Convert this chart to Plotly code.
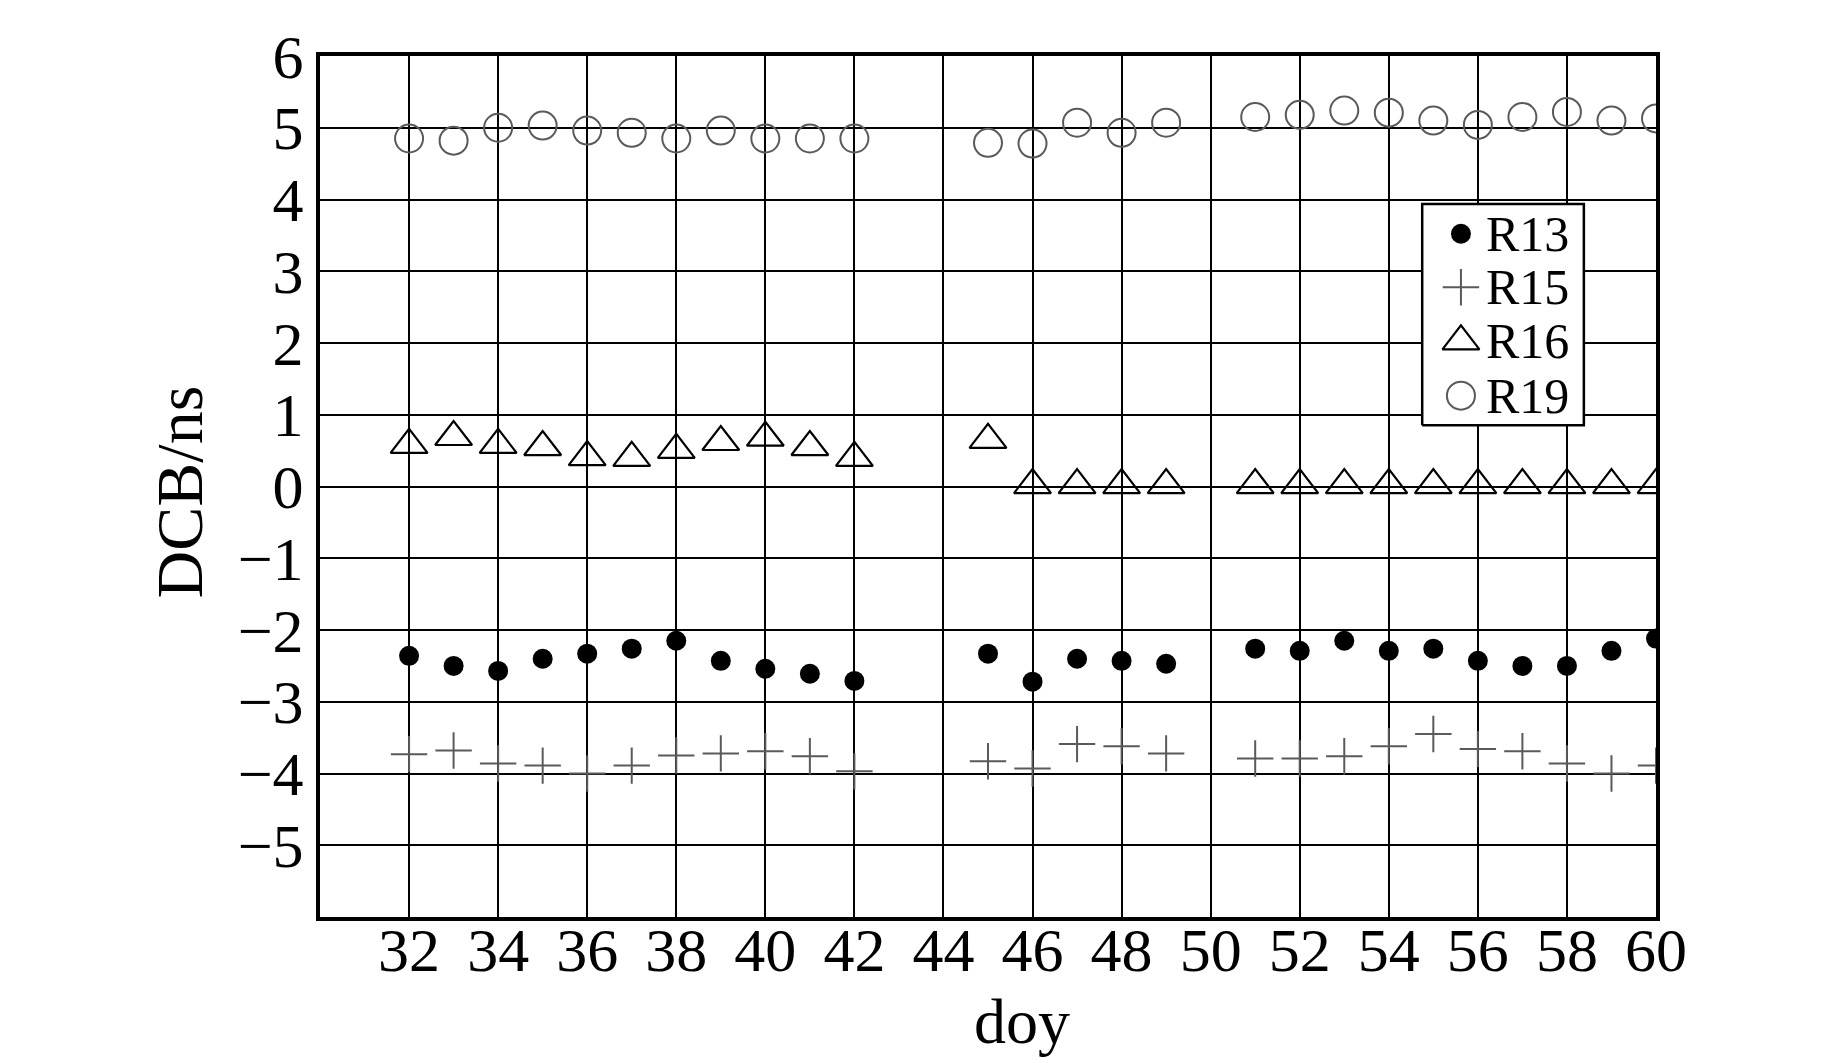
import plotly.graph_objects as go

# days of year for each segment (gaps on 43, 44 and 50)
doy = [32, 33, 34, 35, 36, 37, 38, 39, 40, 41, 42,
       45, 46, 47, 48, 49,
       51, 52, 53, 54, 55, 56, 57, 58, 59, 60]

r13 = [-2.36, -2.50, -2.57, -2.40, -2.33, -2.26, -2.15, -2.43, -2.54, -2.61, -2.71,
       -2.33, -2.72, -2.40, -2.43, -2.47,
       -2.26, -2.29, -2.15, -2.29, -2.26, -2.43, -2.50, -2.50, -2.29, -2.12]
r15 = [-3.73, -3.68, -3.86, -3.89, -4.00, -3.89, -3.75, -3.72, -3.69, -3.76, -3.97,
       -3.83, -3.93, -3.59, -3.62, -3.72,
       -3.79, -3.79, -3.76, -3.62, -3.45, -3.66, -3.69, -3.86, -4.00, -3.89]
r16 = [0.58, 0.69, 0.58, 0.55, 0.41, 0.40, 0.51, 0.62, 0.68, 0.55, 0.40,
       0.65, 0.02, 0.02, 0.02, 0.02,
       0.02, 0.02, 0.02, 0.02, 0.02, 0.02, 0.02, 0.02, 0.02, 0.02]
r19 = [4.85, 4.82, 5.00, 5.03, 4.96, 4.93, 4.85, 4.96, 4.85, 4.85, 4.85,
       4.79, 4.78, 5.07, 4.93, 5.07,
       5.15, 5.18, 5.24, 5.21, 5.10, 5.04, 5.15, 5.22, 5.10, 5.13]

series_names = ["R13", "R15", "R16", "R19"]
x_ticks = list(range(32, 61, 2))
y_ticks = list(range(-5, 7))

FONT = "Liberation Serif, Times New Roman, serif"
GRAY = "#5a5a5a"

markers = {
    "R13": dict(symbol="circle", size=20, color="black", line=dict(width=0)),
    "R15": dict(symbol="cross-thin-open", size=26, color=GRAY,
                line=dict(width=2, color=GRAY)),
    "R16": dict(symbol="triangle-up-open", size=32, color="black",
                line=dict(width=2.2, color="black")),
    "R19": dict(symbol="circle-open", size=28, color=GRAY,
                line=dict(width=2, color=GRAY)),
}

fig = go.Figure()

for name, vals in zip(series_names, [r13, r15, r16, r19]):
    fig.add_trace(go.Scatter(x=doy, y=vals, mode="markers", name=name,
                             marker=markers[name], showlegend=False,
                             hoverinfo="skip"))

# hand-made legend on an overlay axis (paper-like 0..1 coordinates)
lx0, lx1, ly0, ly1 = 0.825, 0.946, 0.571, 0.828
fig.add_trace(go.Scatter(
    x=[lx0, lx1, lx1, lx0, lx0], y=[ly0, ly0, ly1, ly1, ly0],
    mode="lines", fill="toself", fillcolor="white",
    line=dict(color="black", width=2.5),
    xaxis="x2", yaxis="y2", showlegend=False, hoverinfo="skip"
))
item_y = [0.7935, 0.7315, 0.6685, 0.6055]
for name, yy in zip(series_names, item_y):
    fig.add_trace(go.Scatter(x=[0.854], y=[yy], mode="markers",
                             marker=markers[name], xaxis="x2", yaxis="y2",
                             showlegend=False, hoverinfo="skip"))
    fig.add_annotation(x=0.871, y=yy, xref="paper", yref="paper",
                       text=name, showarrow=False, xanchor="left",
                       yanchor="middle",
                       font=dict(family=FONT, size=50, color="black"))

# axis titles
fig.add_annotation(x=0.5255, y=-0.121, xref="paper", yref="paper",
                   text="doy", showarrow=False, xanchor="center",
                   yanchor="middle",
                   font=dict(family=FONT, size=64, color="black"))
fig.add_annotation(x=-0.105, y=0.494, xref="paper", yref="paper",
                   text="DCB/ns", showarrow=False, textangle=-90,
                   xanchor="center", yanchor="middle",
                   font=dict(family=FONT, size=66, color="black"))

fig.update_layout(
    width=1843, height=1063,
    margin=dict(l=312, r=195, t=48, b=154),
    paper_bgcolor="white",
    plot_bgcolor="white",
    font=dict(family=FONT, color="black"),
    showlegend=False,
    xaxis=dict(
        range=[30, 60],
        tickvals=x_ticks,
        ticktext=[str(v) for v in x_ticks],
        tickfont=dict(family=FONT, size=62, color="black"),
        ticks="",
        ticklabelstandoff=-24,
        showgrid=True, gridcolor="black", gridwidth=2,
        zeroline=False,
        showline=True, linecolor="black", linewidth=4, mirror=True,
    ),
    yaxis=dict(
        range=[-6, 6],
        tickvals=y_ticks,
        tickfont=dict(family=FONT, size=62, color="black"),
        ticks="",
        showgrid=True, gridcolor="black", gridwidth=2,
        zeroline=False,
        showline=True, linecolor="black", linewidth=4, mirror=True,
    ),
    xaxis2=dict(range=[0, 1], overlaying="x", visible=False, fixedrange=True),
    yaxis2=dict(range=[0, 1], overlaying="y", visible=False, fixedrange=True),
)

fig.write_html("out.html")
